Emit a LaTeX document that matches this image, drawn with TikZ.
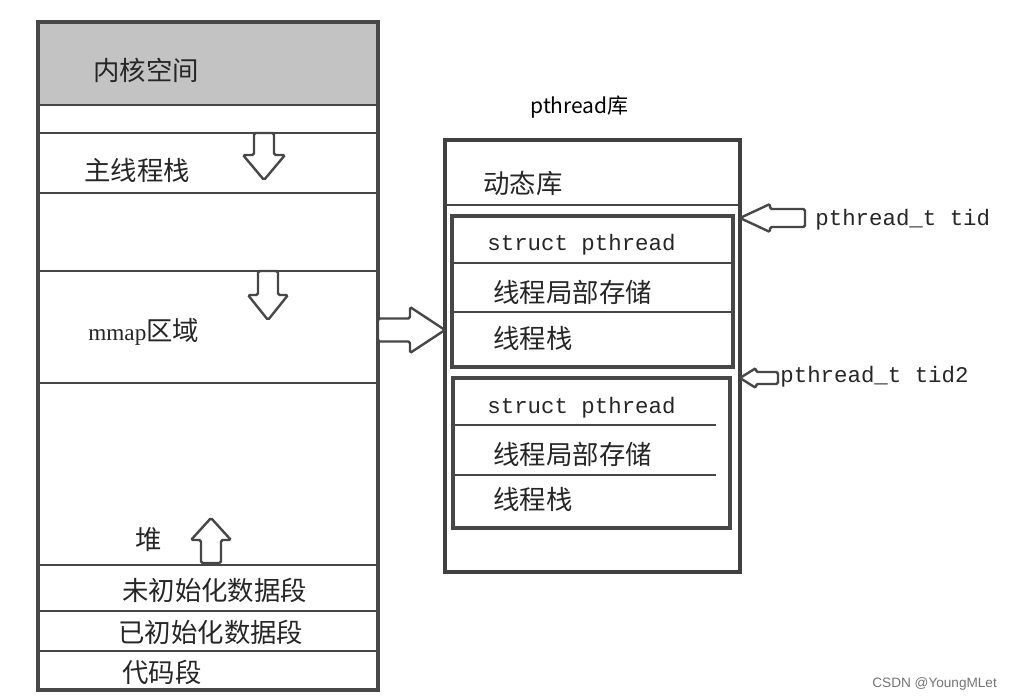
\documentclass[tikz,border=0pt]{standalone}
\usepackage{fontspec}
\setmainfont{Noto Sans CJK SC}
\newfontfamily\cjk{Noto Sans CJK SC}
\newfontfamily\codefont{Liberation Mono}
\newfontfamily\seriffont{Liberation Serif}
\newfontfamily\markfont{Liberation Sans}
\usetikzlibrary{positioning}

\definecolor{edge}{HTML}{474747}
\definecolor{kernelgray}{HTML}{C3C3C3}

\begin{document}
\begin{tikzpicture}[x=0.5pt,y=-0.5pt]
  \tikzset{
    seg/.style={draw=edge, line width=1.1pt},
    box/.style={draw=edge, line width=1.6pt},
    label/.style={font=\cjk\fontsize{13.2}{15}\selectfont, anchor=west, inner sep=0pt, text=black!85},
    code/.style={font=\codefont\fontsize{11.2}{13}\selectfont, anchor=west, inner sep=0pt, text=black!85},
    arrowline/.style={draw=edge, fill=white, line width=1.2pt, rounded corners=0.8pt},
    arrow len/.store in=\alen, head half/.store in=\ahh,
    shaft half/.store in=\ash, head len/.store in=\ahl,
    fatarrow/.pic={
      \draw[arrowline] (0,-\ash) -- ({\alen-\ahl},-\ash) -- ({\alen-\ahl},-\ahh)
        -- (\alen,0) -- ({\alen-\ahl},\ahh) -- ({\alen-\ahl},\ash) -- (0,\ash) -- cycle;
    },
  }
  \useasboundingbox (0,0) rectangle (1014,700);

  % process address space
  \fill[kernelgray] (38,22) rectangle (378,105);
  \draw[box] (38,22) rectangle (378,690);
  \foreach \y in {105,133,193,271,383,565,611,651}
    \draw[seg] (38,\y) -- (378,\y);

  \node[label] (kernel) at (93,70) {内核空间};
  \node[label] (mainstack) at (84,170) {主线程栈};
  \node[label] (mmap) at (88,332) {{\seriffont\fontsize{11.6}{13}\selectfont mmap}区域};
  \node[label] (heap) at (135,540) {堆};
  \node[label] (bss) at (122,590) {未初始化数据段};
  \node[label] (data) at (118,632) {已初始化数据段};
  \node[label] (text) at (122,672) {代码段};

  % growth directions
  \pic[rotate=-90, arrow len=47, head half=21, shaft half=10, head len=25] (down1) at (264,133) {fatarrow};
  \pic[rotate=-90, arrow len=49, head half=20, shaft half=10, head len=25] (down2) at (268,271) {fatarrow};
  \pic[rotate=90, arrow len=45, head half=20, shaft half=10, head len=22] (up) at (211,563) {fatarrow};

  % pthread library
  \node[font=\cjk\fontsize{10.5}{12}\selectfont, anchor=west, inner sep=0pt] (lib) at (530,107) {pthread库};
  \draw[draw=edge!90!black, line width=2pt] (445,140) rectangle (740,572);
  \draw[seg] (447,205) -- (738,205);
  \node[label] (dyn) at (483,183) {动态库};

  % first thread
  \draw[box] (452,216) rectangle (733,367);
  \draw[seg] (452,263) -- (733,263);
  \draw[seg] (452,312) -- (733,312);
  \node[code] (tcb1) at (487,245) {struct pthread};
  \node[label] (tls1) at (493,292) {线程局部存储};
  \node[label] (tstack1) at (493,338) {线程栈};

  % second thread
  \draw[box] (453,378) rectangle (730,528);
  \draw[seg] (453,425) -- (716,425);
  \draw[seg] (453,475) -- (716,475);
  \node[code] (tcb2) at (487,408) {struct pthread};
  \node[label] (tls2) at (493,454) {线程局部存储};
  \node[label] (tstack2) at (493,499) {线程栈};

  % mmap -> library, thread ids
  \pic[arrow len=67, head half=23, shaft half=11.5, head len=35] (tolib) at (378,330) {fatarrow};
  \pic[rotate=180, arrow len=65, head half=14, shaft half=9, head len=30] (tidarrow) at (805,218) {fatarrow};
  \pic[rotate=180, arrow len=38, head half=10, shaft half=6, head len=16] (tid2arrow) at (778,378) {fatarrow};
  \node[code] (tid) at (815,220) {pthread\_t tid};
  \node[code] (tid2) at (780,377) {pthread\_t tid2};

  \node[font=\markfont\fontsize{6.8}{8}\selectfont, text=black!55, anchor=west, inner sep=0pt] (mark) at (872,684) {CSDN @YoungMLet};
\end{tikzpicture}
\end{document}
